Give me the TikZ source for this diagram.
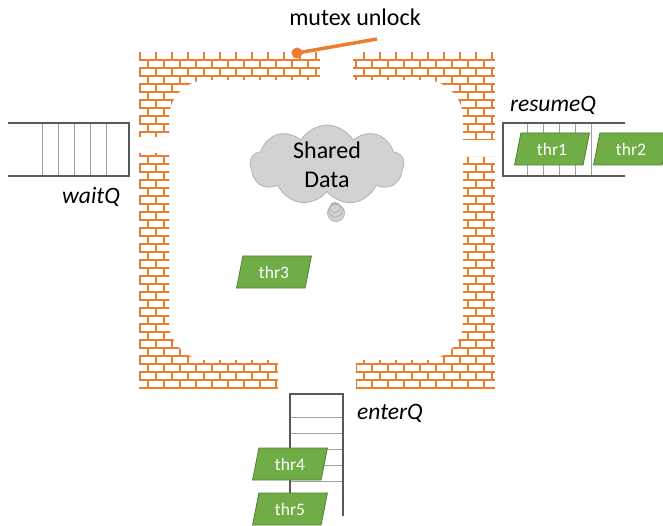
\documentclass[tikz,border=0pt]{standalone}
\usepackage{fontspec}
\setmainfont{Carlito}
\usepackage{tikz}
\usetikzlibrary{shapes}
\definecolor{brickorange}{HTML}{ED7D31}
\definecolor{thrgreen}{HTML}{70AD47}
\definecolor{thrborder}{HTML}{507E32}
\definecolor{qgray}{HTML}{595959}
\tikzset{
  brick_line/.style = {draw=brickorange, line width=2.6pt},% mortar lines of the wall
  queue_edge/.style = {draw=qgray, line width=2.2pt},
  queue_slot/.style = {draw=gray!75, line width=1pt},
  thr_node/.style = {trapezium, trapezium left angle=76, trapezium right angle=104,
    trapezium stretches=true, minimum width=75pt, minimum height=32pt, inner sep=0pt,
    fill=thrgreen, draw=thrborder, line width=0.8pt, text=white,
    font=\fontsize{17.5}{20}\selectfont},% one thread
  q_label/.style = {font=\fontsize{23.5}{28}\selectfont\itshape},
  lever/.style = {draw=brickorange, line width=3.5pt},
  pivot_dot/.style = {circle, fill=brickorange, inner sep=0pt, minimum size=11pt}
}

\begin{document}
\begin{tikzpicture}[x=1pt, y=-1pt]
  \useasboundingbox (0,0) rectangle (663,526);

  % monitor wall: brick pattern cut to a frame with four doors
  \begin{scope}[even odd rule]
    \clip (139,53) rectangle (495,388);
    \clip (100,30) rectangle (520,410)
      (320,40) rectangle (353,90)
      (130,137) rectangle (180,153)
      (278,350) rectangle (356,400)
      (455,140) rectangle (505,157);
    \begin{scope}[rounded corners=38pt]
      \clip (-100,-100) rectangle (800,700) (169,80) rectangle (463,360);
      \draw[brick_line] \foreach \k in {0,...,41} {(139,60+8*\k) -- (495,60+8*\k)};
      \draw[brick_line] \foreach \r in {0,...,42} {
        \foreach \j in {0,...,22} {({140+8*mod(\r,2)+16*\j},{52+8*\r}) -- ++(0,8)}
      };
    \end{scope}
  \end{scope}

  % waitQ, open on the left
  \foreach \i in {0,...,4} \draw[queue_slot] (42+16*\i,123) -- (42+16*\i,176);
  \draw[queue_edge] (8,123) -- (129,123) -- (129,176) -- (8,176);
  \node[q_label] (waitQ_label) at (91,197) {waitQ};

  % resumeQ, open on the right
  \foreach \i in {0,...,4} \draw[queue_slot] (527+16*\i,123) -- (527+16*\i,176);
  \draw[queue_edge] (625,123) -- (503,123) -- (503,176) -- (625,176);
  \node[q_label] (resumeQ_label) at (553,105) {resumeQ};

  % enterQ, open at the bottom
  \foreach \i in {0,...,4} \draw[queue_slot] (290,417+16*\i) -- (343,417+16*\i);
  \draw[queue_edge] (290,516) -- (290,394) -- (343,394) -- (343,516);
  \node[q_label] (enterQ_label) at (390,413) {enterQ};

  % shared data
  \node[cloud callout, cloud puffs=9, cloud puff arc=120, cloud ignores aspect,
    minimum width=154pt, minimum height=76pt, inner sep=0pt,
    fill=gray!35, draw=gray!60, line width=0.8pt,
    callout absolute pointer={(336,213)}, callout pointer segments=3,
    callout pointer start size=7pt, callout pointer end size=17pt,
    align=center, font=\fontsize{24}{29}\selectfont] (shared_data) at (327,165) {Shared\\Data};

  % threads
  \node[thr_node] (thr1) at (552,149) {thr1};
  \node[thr_node] (thr2) at (631,149) {thr2};
  \node[thr_node] (thr3) at (274,272) {thr3};
  \node[thr_node] (thr4) at (290,464) {thr4};
  \node[thr_node] (thr5) at (290,509) {thr5};

  % unlock lever on the top wall
  \node[font=\fontsize{24}{28}\selectfont] (unlock_label) at (355,17) {mutex unlock};
  \coordinate (lever_tip) at (377,39);
  \draw[lever] (lever_tip) -- (297,53) node[pivot_dot] (lever_pivot) {};
\end{tikzpicture}
\end{document}
